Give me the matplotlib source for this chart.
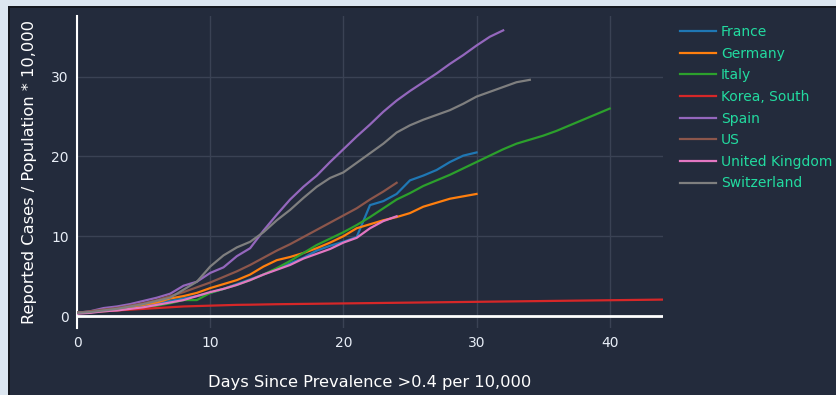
import matplotlib
matplotlib.use("Agg")
import matplotlib.pyplot as plt
from matplotlib.patches import Rectangle

# days since prevalence > 0.4 per 10,000, reported cases / population * 10,000
france = [0.4, 0.5, 0.6, 0.8, 1.0, 1.3, 1.6, 1.9, 2.2, 2.5, 2.9, 3.4, 4.0, 4.6, 5.2, 5.9,
          6.6, 7.3, 8.2, 8.8, 9.3, 9.9, 13.9, 14.4, 15.3, 17.0, 17.6, 18.3, 19.3, 20.1, 20.5]
germany = [0.4, 0.5, 0.7, 0.9, 1.1, 1.4, 1.7, 2.2, 2.5, 2.9, 3.5, 4.0, 4.5, 5.2, 6.2, 7.0,
           7.4, 7.9, 8.5, 9.2, 10.0, 11.0, 11.5, 12.0, 12.4, 12.9, 13.7, 14.2, 14.7, 15.0, 15.3]
italy = [0.4, 0.5, 0.6, 0.7, 0.9, 1.1, 1.3, 1.6, 2.0, 2.0, 2.9, 3.4, 3.9, 4.5, 5.2, 6.0,
         6.9, 7.9, 8.9, 9.7, 10.5, 11.4, 12.4, 13.5, 14.6, 15.4, 16.3, 17.0, 17.7, 18.5, 19.3,
         20.1, 20.9, 21.6, 22.1, 22.6, 23.2, 23.9, 24.6, 25.3, 26.0]
korea = [0.4, 0.5, 0.6, 0.7, 0.8, 0.9, 1.0, 1.1, 1.2, 1.25, 1.3, 1.35, 1.4, 1.42, 1.45, 1.48,
         1.5, 1.52, 1.54, 1.56, 1.58, 1.6, 1.62, 1.64, 1.66, 1.68, 1.7, 1.72, 1.74, 1.76, 1.78,
         1.8, 1.82, 1.84, 1.86, 1.88, 1.9, 1.92, 1.94, 1.96, 1.98, 2.0, 2.02, 2.04, 2.06, 2.08]
spain = [0.4, 0.6, 1.0, 1.2, 1.5, 1.9, 2.3, 2.8, 3.8, 4.3, 5.4, 6.1, 7.5, 8.5, 10.7, 12.7,
         14.6, 16.2, 17.6, 19.3, 20.9, 22.5, 24.0, 25.6, 27.0, 28.2, 29.3, 30.4, 31.6, 32.7,
         33.9, 35.0, 35.8]
us = [0.4, 0.6, 0.8, 1.0, 1.3, 1.6, 2.0, 2.5, 3.0, 3.6, 4.2, 4.9, 5.6, 6.4, 7.3, 8.2,
      9.0, 9.9, 10.8, 11.7, 12.6, 13.5, 14.6, 15.6, 16.7]
uk = [0.3, 0.4, 0.6, 0.7, 0.9, 1.1, 1.4, 1.7, 2.0, 2.5, 3.0, 3.4, 3.9, 4.5, 5.2, 5.8,
      6.4, 7.2, 7.8, 8.4, 9.2, 9.8, 11.0, 11.9, 12.5]
switzerland = [0.4, 0.5, 0.7, 0.9, 1.2, 1.5, 1.9, 2.3, 3.3, 4.3, 6.2, 7.6, 8.6, 9.3, 10.5,
               12.0, 13.3, 14.8, 16.2, 17.3, 18.0, 19.2, 20.4, 21.6, 23.0, 23.9, 24.6, 25.2,
               25.8, 26.6, 27.5, 28.1, 28.7, 29.3, 29.6]

series = [
    ("France", france, "#1f77b4"),
    ("Germany", germany, "#ff7f0e"),
    ("Italy", italy, "#2ca02c"),
    ("Korea, South", korea, "#d62728"),
    ("Spain", spain, "#9467bd"),
    ("US", us, "#8c564b"),
    ("United Kingdom", uk, "#e377c2"),
    ("Switzerland", switzerland, "#7f7f7f"),
]

bg = "#232b3c"
W, H = 836, 395

fig = plt.figure(figsize=(W / 100, H / 100), dpi=100)
fig.patch.set_facecolor("#dce6f0")
# dark panel with a thin dark edge on top / left
fig.add_artist(Rectangle((8 / W, 0), 1, (H - 6) / H, transform=fig.transFigure,
                         facecolor="#15181f", edgecolor="none", zorder=-2))
fig.add_artist(Rectangle((10 / W, 0), 1, (H - 8) / H, transform=fig.transFigure,
                         facecolor=bg, edgecolor="none", zorder=-1))

ax = fig.add_axes([77 / W, 1 - 328 / H, (663 - 77) / W, (328 - 16) / H])
ax.set_facecolor(bg)

for name, vals, col in series:
    ax.plot(range(len(vals)), vals, color=col, lw=1.6, label=name, zorder=3)

ax.set_xlim(0, 44)
ax.set_ylim(-1.5, 37.6)
ax.set_xticks([0, 10, 20, 30, 40])
ax.set_yticks([0, 10, 20, 30])
ax.grid(True, color="#3a4254", lw=1)
ax.set_axisbelow(True)
ax.axhline(0, color="white", lw=2, zorder=2)
for s in ["top", "right", "bottom"]:
    ax.spines[s].set_visible(False)
ax.spines["left"].set_color("white")
ax.spines["left"].set_linewidth(1.5)
ax.tick_params(length=0, colors="#e8eef7", labelsize=10, pad=6)

fig.text(370 / W, 1 - 383 / H, "Days Since Prevalence >0.4 per 10,000",
         color="white", fontsize=11.7, ha="center", va="center")
fig.text(30 / W, 1 - 172 / H, "Reported Cases / Population * 10,000",
         color="white", fontsize=11.7, ha="center", va="center", rotation=90)

leg = ax.legend(loc="upper left", bbox_to_anchor=(680 / W, 1 - 25 / H),
                bbox_transform=fig.transFigure, frameon=False, fontsize=10,
                handlelength=2.6, labelspacing=0.55, handletextpad=0.35,
                borderaxespad=0, borderpad=0)
for t in leg.get_texts():
    t.set_color("#22dba0")

fig.savefig("out.png", dpi=100, facecolor=fig.get_facecolor())
